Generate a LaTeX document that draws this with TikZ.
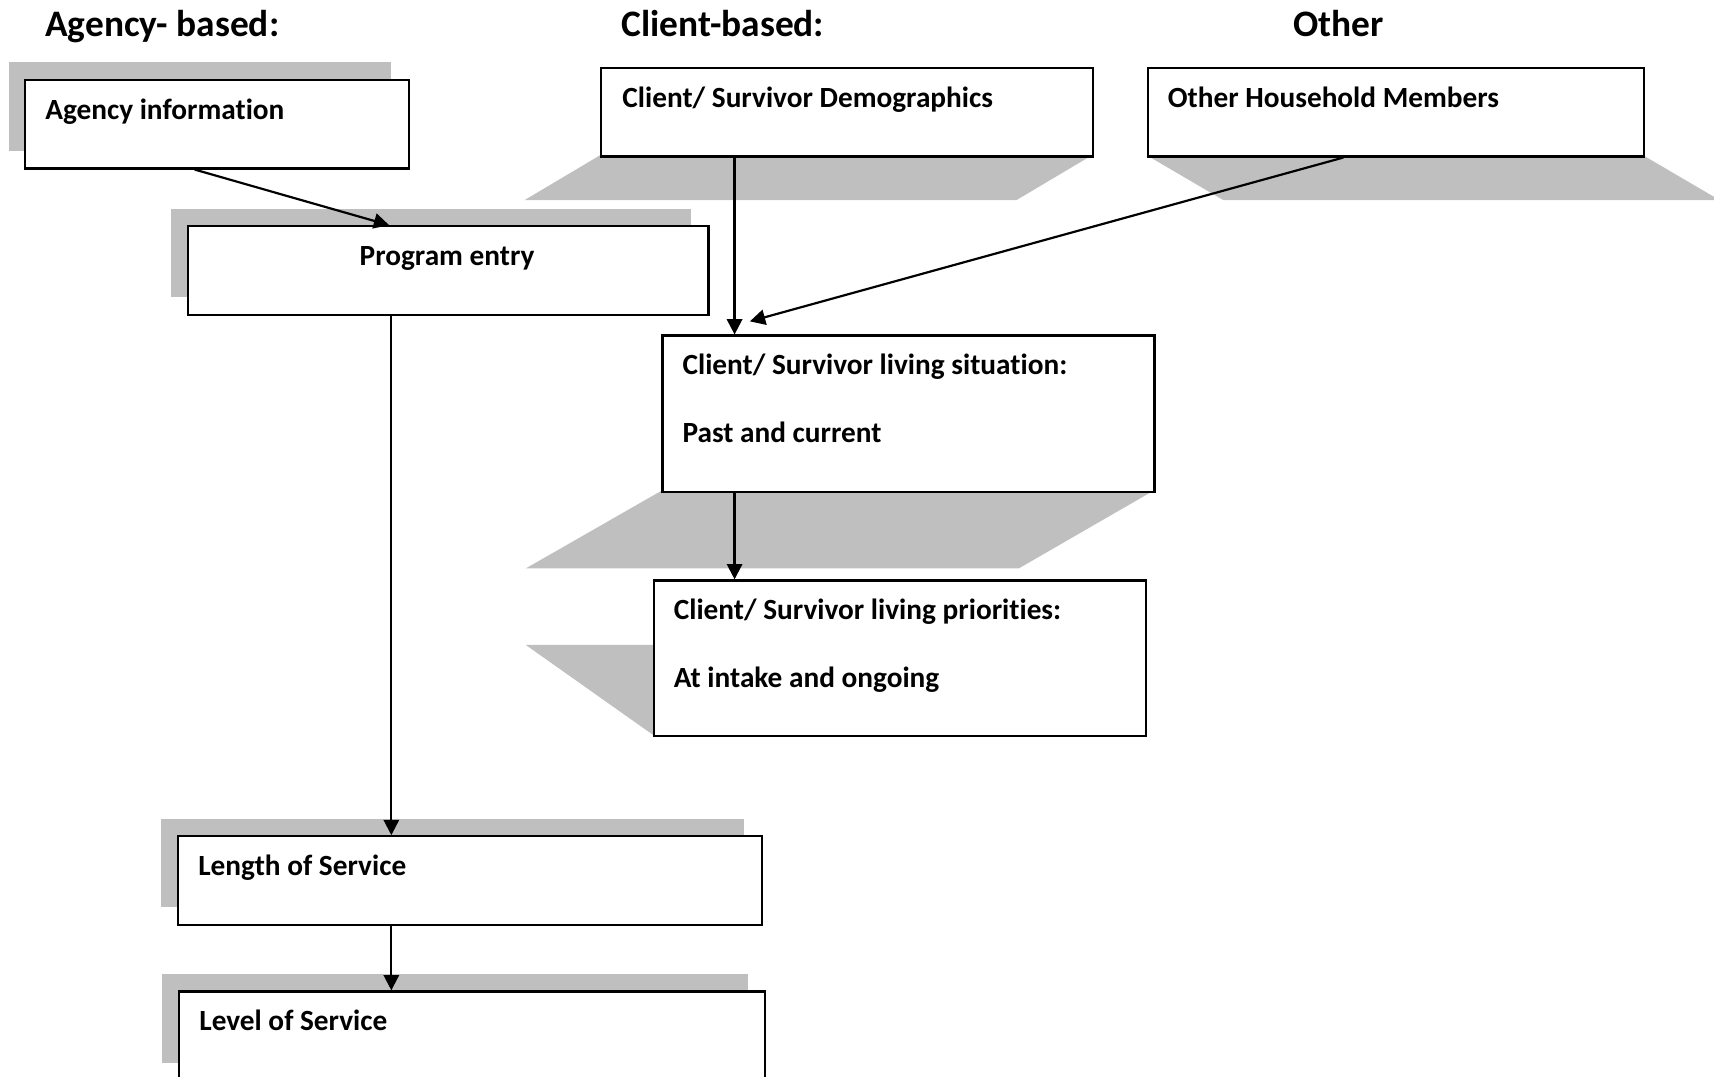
\documentclass[tikz,border=0pt]{standalone}
\usepackage{fontspec}
\setmainfont{Carlito}[Ligatures=NoCommon]
\usetikzlibrary{arrows.meta,calc}
\definecolor{shadowgray}{RGB}{191,191,191}
\begin{document}
\begin{tikzpicture}[x=0.5pt,y=-0.5pt,
  box/.style={draw=black, line width=1.05pt, fill=white, anchor=north west, inner sep=0pt},
  shade/.style={fill=shadowgray, draw=none},
  txt/.style={anchor=base west, inner sep=0pt, font=\fontsize{13.4}{16}\selectfont\bfseries},
  head/.style={anchor=base west, inner sep=0pt, font=\fontsize{17.1}{20}\selectfont\bfseries},
  arr/.style={line width=1pt, -{Triangle[length=7pt,width=7pt]}}]
\useasboundingbox (0,0) rectangle (1568,985);
\clip (0,0) rectangle (1568,985);
% shadows
\fill[shade] (8,57) rectangle (358,138);
\fill[shade] (156,191) rectangle (632,272);
\fill[shade] (549,142) -- (999,142) -- (930,183) -- (480,183) -- cycle;
\fill[shade] (1049,142) -- (1503,142) -- (1573,183) -- (1119,183) -- cycle;
\fill[shade] (605,449) -- (1055,449) -- (932,520) -- (481,520) -- cycle;
\fill[shade] (481,590) -- (931,590) -- (1047,672) -- (597,672) -- cycle;
\fill[shade] (147,749) rectangle (681,830);
\fill[shade] (148,891) rectangle (684,972);
% headings
\node[head] (h1) at (41,33) {Agency- based:};
\node[head] (h2) at (568,33) {Client-based:};
\node[head] (h3) at (1183,33) {Other};
% boxes
\node[box, minimum width=175.5pt, minimum height=40.5pt] (agency) at (22,72) {};
\node[box, minimum width=238pt, minimum height=40.5pt] (prog) at (171,206) {};
\node[box, minimum width=225pt, minimum height=40.5pt] (demo) at (549,61) {};
\node[box, minimum width=227pt, minimum height=40.5pt] (other) at (1049,61) {};
\node[box, minimum width=225pt, minimum height=71.5pt] (sit) at (605,306) {};
\node[box, minimum width=225pt, minimum height=71pt] (prio) at (597,530) {};
\node[box, minimum width=267pt, minimum height=40.5pt] (len) at (162,764) {};
\node[box, minimum width=268pt, minimum height=50pt] (lev) at (163,906) {};
% texts
\node[txt] (tagency) at (41,109) {Agency information};
\node[txt, anchor=base] (tprog) at (409,243) {Program entry};
\node[txt] (tdemo) at (569,98) {Client/ Survivor Demographics};
\node[txt] (tother) at (1068,98) {Other Household Members};
\node[txt] (tsit1) at (624,343) {Client/ Survivor living situation:};
\node[txt] (tsit2) at (624,405) {Past and current};
\node[txt] (tprio1) at (616,567) {Client/ Survivor living priorities:};
\node[txt] (tprio2) at (616,629) {At intake and ongoing};
\node[txt] (tlen) at (181,801) {Length of Service};
\node[txt] (tlev) at (182,943) {Level of Service};
% connectors
\coordinate (a1) at ($(agency.south west)+(156,0)$);
\coordinate (a2) at ($(prog.north west)+(185,0)$);
\draw[arr] (a1) -- (a2);
\coordinate (p1) at ($(prog.south west)+(187,0)$);
\draw[arr] (p1) -- (p1 |- len.north);
\coordinate (l1) at ($(len.south west)+(196,0)$);
\draw[arr] (l1) -- (l1 |- lev.north);
\coordinate (d1) at ($(demo.south west)+(123,0)$);
\draw[arr] (d1) -- (d1 |- sit.north);
\coordinate (o1) at ($(other.south west)+(180,0)$);
\coordinate (o2) at ($(sit.north west)+(81,-12)$);
\draw[arr] (o1) -- (o2);
\coordinate (s1) at ($(sit.south west)+(67,0)$);
\draw[arr] (s1) -- (s1 |- prio.north);
\end{tikzpicture}
\end{document}
